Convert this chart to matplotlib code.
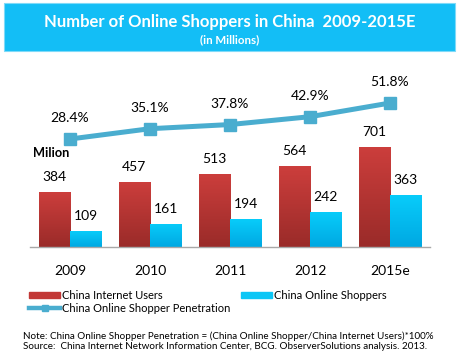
import numpy as np
import matplotlib
matplotlib.use("Agg")
import matplotlib.pyplot as plt
from matplotlib.patches import Rectangle
from matplotlib.lines import Line2D
from matplotlib.colors import LinearSegmentedColormap
from matplotlib.transforms import blended_transform_factory

plt.rcParams['font.family'] = ['Lato', 'DejaVu Sans']

# Data
years = ['2009', '2010', '2011', '2012', '2015e']
internet_users = [384, 457, 513, 564, 701]
online_shoppers = [109, 161, 194, 242, 363]
penetration = [28.4, 35.1, 37.8, 42.9, 51.8]

red_top, red_bot = '#CC3E3C', '#9A2B29'
cyan_top, cyan_bot = '#08CCFA', '#00A8E2'
line_col = '#4AADCF'

fig = plt.figure(figsize=(4.59, 3.58), dpi=100)

# title banner
fig.patches.append(Rectangle((4/459, 1-51/358), 451/459, 48/358,
                             transform=fig.transFigure, facecolor='#13BEF6',
                             edgecolor='#7FDAF8', linewidth=0.8))
fig.text(0.5, 1-22/358, 'Number of Online Shoppers in China  2009-2015E',
         ha='center', va='center', color='white', fontsize=12, fontweight='bold')
fig.text(0.5, 1-40/358, '(in Millions)', ha='center', va='center',
         color='white', fontsize=8.3, fontweight='bold')

ax = fig.add_axes([30/459, 1-247/358, 400/459, 157/358])
x = np.arange(len(years))
w = 0.39

def grad_bars(bars, c_top, c_bot):
    cmap = LinearSegmentedColormap.from_list('g', [c_bot, c_top])
    for b in bars:
        x0, y0 = b.get_x(), b.get_y()
        bw, bh = b.get_width(), b.get_height()
        im = ax.imshow(np.linspace(0, 1, 64).reshape(-1, 1), cmap=cmap,
                       extent=[x0, x0 + bw, y0, y0 + bh], origin='lower',
                       aspect='auto', zorder=2)
        im.set_clip_path(b)

b1 = ax.bar(x - w/2, internet_users, w, color=red_top, zorder=1)
b2 = ax.bar(x + w/2, online_shoppers, w, color=cyan_top, zorder=1)
grad_bars(b1, red_top, red_bot)
grad_bars(b2, cyan_top, cyan_bot)

for xi, v in zip(x, internet_users):
    ax.annotate(str(v), (xi - w/2, v), xytext=(0, 15), textcoords='offset pixels',
                ha='center', va='center', fontsize=10)
for xi, v in zip(x, online_shoppers):
    ax.annotate(str(v), (xi + w/2, v), xytext=(0, 15), textcoords='offset pixels',
                ha='center', va='center', fontsize=10)

ax.set_xlim(-0.5, 4.5)
ax.set_ylim(0, 1098)
ax.set_yticks([])
ax.set_xticks(x)
ax.set_xticklabels(years, fontsize=10)
ax.tick_params(axis='x', length=0, pad=13)
for s in ['top', 'right', 'left']:
    ax.spines[s].set_visible(False)
ax.spines['bottom'].set_color('#A8A8A8')
ax.spines['bottom'].set_linewidth(1.0)
ax.patch.set_alpha(0)

ax.text(3/400, 1-153/358, 'Milion',
        transform=blended_transform_factory(ax.transAxes, fig.transFigure),
        fontsize=9.2, fontweight='bold', ha='left', va='center')

ax2 = ax.twinx()
ax2.plot(x, penetration, color=line_col, lw=3.6, marker='s', ms=8.5, zorder=3)
for xi, p in zip(x, penetration):
    ax2.annotate(f'{p}%', (xi, p), xytext=(0, 21), textcoords='offset pixels',
                 ha='center', va='center', fontsize=10)
ax2.set_ylim(-41.8, 60.26)
ax2.set_yticks([])
for s in ['top', 'right', 'left', 'bottom']:
    ax2.spines[s].set_visible(False)

handles = [Rectangle((0, 0), 1, 1, color='#C23836'),
           Line2D([], [], color=line_col, lw=3.2, marker='s', ms=4.5),
           Rectangle((0, 0), 1, 1, color='#0BC6F6')]
labels = ['China Internet Users', 'China Online Shopper Penetration',
          'China Online Shoppers']
fig.legend(handles, labels, loc='upper left', bbox_to_anchor=(29/459, 1-290/358),
           ncol=2, frameon=False, fontsize=8, handlelength=2.8, handleheight=0.55,
           handletextpad=0.15, columnspacing=1.0, labelspacing=0.15,
           borderpad=0, borderaxespad=0)

fig.text(23/459, 1-336/358,
         'Note: China Online Shopper Penetration = (China Online Shopper/China Internet Users)*100%',
         fontsize=7.1, va='center', ha='left')
fig.text(23/459, 1-346.5/358,
         'Source:  China Internet Network Information Center, BCG. ObserverSolutions analysis. 2013.',
         fontsize=7.1, va='center', ha='left')

fig.savefig('out.png', dpi=100)
